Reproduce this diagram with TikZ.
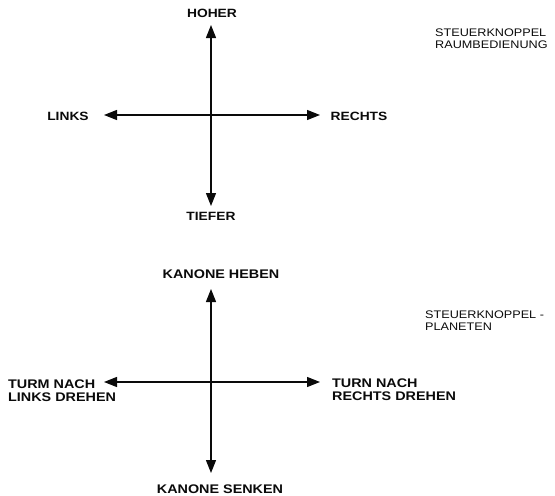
\documentclass[tikz,border=0pt]{standalone}
\usepackage{fontspec}
\usepackage{tikz}
\usetikzlibrary{arrows.meta,positioning}
\newfontfamily\lblfont[FakeStretch=1.15]{Liberation Sans}
\definecolor{inkcol}{RGB}{10,10,10}

\begin{document}
\begin{tikzpicture}[x=1pt,y=-1pt,
    lbl/.style={inkcol, inner sep=0pt, font=\lblfont\bfseries\fontsize{12}{13}\selectfont},
    lblb/.style={inkcol, inner sep=0pt, align=left, anchor=west,
      font=\lblfont\bfseries\fontsize{12.5}{13}\selectfont},
    note/.style={inkcol, inner sep=0pt, align=left, anchor=west,
      font=\lblfont\fontsize{11}{12}\selectfont},
    axis/.style={inkcol, line width=1.2pt, {Triangle[length=13pt,width=10pt]}-{Triangle[length=13pt,width=10pt]}}]
  \useasboundingbox (0,0) rectangle (555,496);

  % Raumbedienung
  \node[lbl] (hoher) at (212,13) {HOHER};
  \node[lbl] (tiefer) at (211,216) {TIEFER};
  \node[lbl] (links) at (68,116) {LINKS};
  \node[lbl] (rechts) at (359,116) {RECHTS};
  \node[note] (raum) at (435,39) {STEUERKNOPPEL\\RAUMBEDIENUNG};
  \coordinate (rN) at (211,25);
  \coordinate (rS) at (211,206);
  \coordinate (rW) at (104,115);
  \coordinate (rE) at (320,115);
  \draw[axis] (rN) -- (rS);
  \draw[axis] (rW) -- (rE);

  % Planeten
  \node[lbl, font=\lblfont\bfseries\fontsize{12.5}{13}\selectfont] (heben) at (221,274) {KANONE HEBEN};
  \node[lbl, font=\lblfont\bfseries\fontsize{12.5}{13}\selectfont] (senken) at (220,489) {KANONE SENKEN};
  \node[lblb] (turml) at (8,391) {TURM NACH\\LINKS DREHEN};
  \node[lblb] (turmr) at (332,390) {TURN NACH\\RECHTS DREHEN};
  \node[note] (planet) at (425,321) {STEUERKNOPPEL -\\PLANETEN};
  \coordinate (pN) at (211,289);
  \coordinate (pS) at (211,473);
  \coordinate (pW) at (104,382);
  \coordinate (pE) at (320,382);
  \draw[axis] (pN) -- (pS);
  \draw[axis] (pW) -- (pE);
\end{tikzpicture}
\end{document}
